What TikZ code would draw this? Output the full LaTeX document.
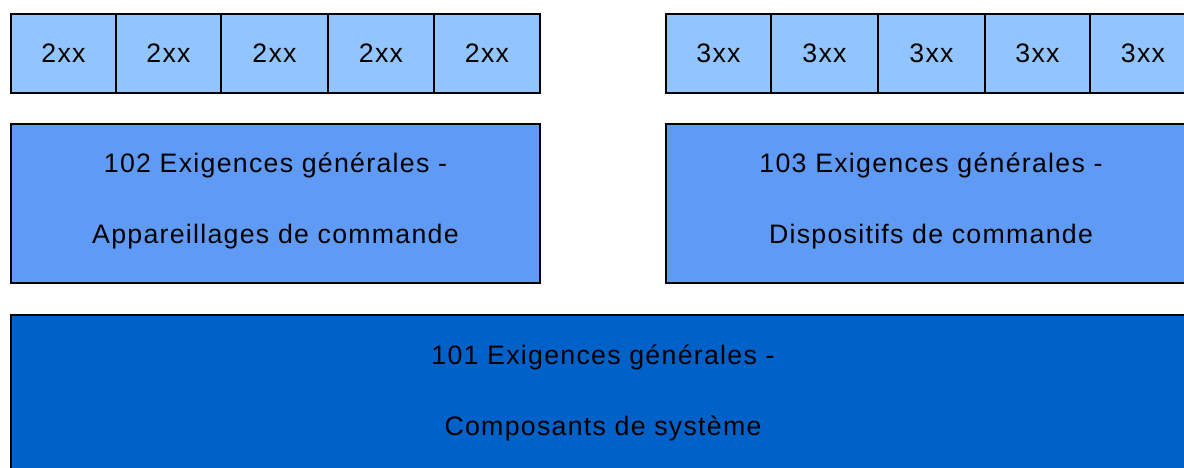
\documentclass[tikz,border=0pt]{standalone}
\usepackage{fontspec}
\setmainfont{Liberation Sans}[LetterSpace=4.8]
\definecolor{topblue}{HTML}{92C5FE}
\definecolor{midblue}{HTML}{5F9BF5}
\definecolor{botblue}{HTML}{0061C8}
\begin{document}
\begin{tikzpicture}[x=1pt,y=-1pt,
  box/.style={draw=black, line width=2pt, rectangle, inner sep=0pt, outer sep=0pt, anchor=north west},
  cell/.style={box, fill=topblue, minimum height=79pt},
  lbl/.style={anchor=base, inner sep=0pt, font=\fontsize{26.7}{30}\selectfont, text=black}
]
\useasboundingbox (0,0) rectangle (1184,468);
\clip (0,0) rectangle (1184,468);
\fill[white] (0,0) rectangle (1184,468);
% top row left
\node[cell, minimum width=105pt] (a1) at (11,14) {};
\node[cell, minimum width=105pt] (a2) at (116,14) {};
\node[cell, minimum width=107pt] (a3) at (221,14) {};
\node[cell, minimum width=106pt] (a4) at (328,14) {};
\node[cell, minimum width=106pt] (a5) at (434,14) {};
% top row right
\node[cell, minimum width=105pt] (b1) at (666,14) {};
\node[cell, minimum width=107pt] (b2) at (771,14) {};
\node[cell, minimum width=107pt] (b3) at (878,14) {};
\node[cell, minimum width=105pt] (b4) at (985,14) {};
\node[cell, minimum width=106pt] (b5) at (1090,14) {};
\foreach \n/\t in {a1/2xx,a2/2xx,a3/2xx,a4/2xx,a5/2xx,b1/3xx,b2/3xx,b3/3xx,b4/3xx,b5/3xx}{
  \node[lbl] (\n t) at ([yshift=-9.5pt]\n.center) {\t};
}
% middle row
\node[box, fill=midblue, minimum width=529pt, minimum height=159pt] (m102) at (11,124) {};
\node[box, fill=midblue, minimum width=530pt, minimum height=159pt] (m103) at (666,124) {};
\node[lbl] (m102a) at (275.5,173) {102 Exigences générales -};
\node[lbl] (m102b) at (275.5,243) {Appareillages de commande};
\node[lbl] (m103a) at (931,173) {103 Exigences générales -};
\node[lbl] (m103b) at (931,243) {Dispositifs de commande};
% bottom
\node[box, fill=botblue, line width=2.5pt, minimum width=1185pt, minimum height=159pt] (s101) at (11,315) {};
\node[lbl] (s101a) at (603,364) {101 Exigences générales -};
\node[lbl] (s101b) at (603,435) {Composants de système};
\end{tikzpicture}
\end{document}
